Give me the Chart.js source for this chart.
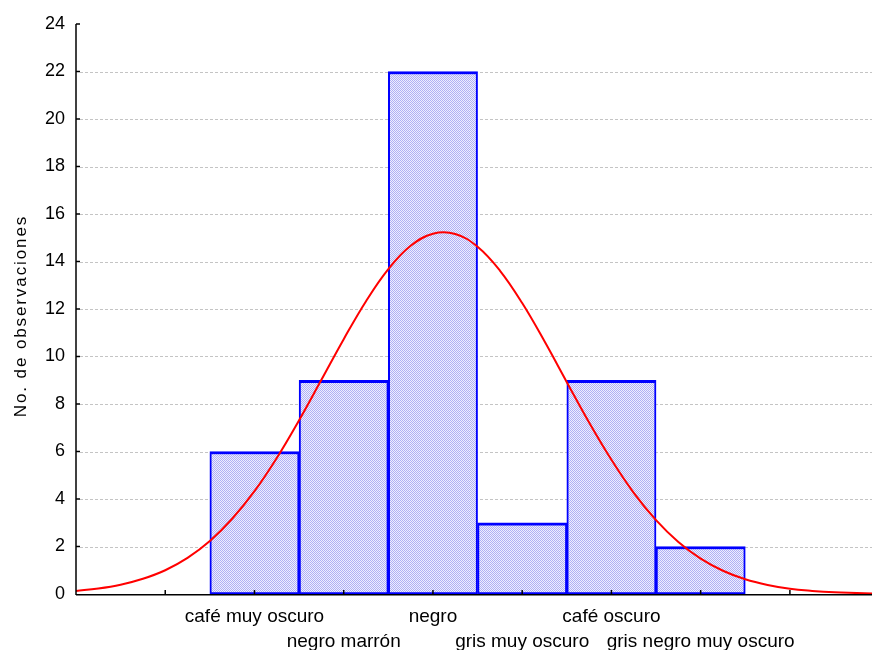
<!DOCTYPE html>
<html>
<head>
<meta charset="utf-8">
<script src="https://cdn.jsdelivr.net/npm/chart.js@4/dist/chart.umd.min.js"></script>
<style>
  html, body { margin: 0; padding: 0; background: #ffffff; overflow: hidden; }
  canvas { display: block; }
</style>
</head>
<body>
<canvas id="hist" width="872" height="650"></canvas>
<script>
// Colour categories and observed counts
const categories = ['café muy oscuro', 'negro marrón', 'negro', 'gris muy oscuro', 'café oscuro', 'gris negro muy oscuro'];
const counts = [6, 9, 22, 3, 9, 2];

// Y axis tick labels
const yTicks = [0, 2, 4, 6, 8, 10, 12, 14, 16, 18, 20, 22, 24];

// Expected normal curve (positions in category units, heights in observations)
const curveX = [-2, -1.75, -1.5, -1.25, -1, -0.75, -0.5, -0.25, 0, 0.25, 0.5, 0.75, 1, 1.25, 1.5, 1.75, 2, 2.25, 2.5, 2.75, 3, 3.25, 3.5, 3.75, 4, 4.25, 4.5, 4.75, 5, 5.25, 5.5, 5.75, 6, 6.25, 6.5, 6.75, 6.92];
const curveY = [0.13, 0.23, 0.39, 0.64, 1.00, 1.52, 2.23, 3.17, 4.33, 5.73, 7.32, 9.02, 10.73, 12.33, 13.68, 14.66, 15.17, 15.16, 14.62, 13.62, 12.25, 10.64, 8.92, 7.22, 5.65, 4.26, 3.11, 2.19, 1.49, 0.98, 0.62, 0.38, 0.22, 0.13, 0.07, 0.04, 0.02];

// Positions of the x-axis tick marks (category units)
const xTickMarks = [-1, 0, 1, 2, 3, 4, 5, 6];
const xRange = [-2, 6.92];

const FONT = '"Liberation Sans", Arial, sans-serif';

// Fine dotted fill for the bars
function dotPattern(ctx) {
  const c = document.createElement('canvas');
  c.width = 2; c.height = 2;
  const p = c.getContext('2d');
  p.fillStyle = '#eeeeff';
  p.fillRect(0, 0, 2, 2);
  p.fillStyle = '#b0b0f4';
  p.fillRect(0, 0, 1, 1);
  p.fillRect(1, 1, 1, 1);
  return ctx.createPattern(c, 'repeat');
}

const decorations = {
  id: 'decorations',
  beforeDatasetsDraw(chart) {
    const { ctx, chartArea, scales } = chart;
    const y = scales.y;
    ctx.save();
    ctx.strokeStyle = '#c4c4c4';
    ctx.lineWidth = 1;
    ctx.setLineDash([3, 2]);
    yTicks.forEach(v => {
      if (v === 0 || v === 24) return;
      const py = Math.round(y.getPixelForValue(v)) + 0.5;
      ctx.beginPath();
      ctx.moveTo(chartArea.left + 4, py);
      ctx.lineTo(chartArea.right, py);
      ctx.stroke();
    });
    ctx.restore();
  },
  afterDatasetsDraw(chart) {
    const { ctx, chartArea, scales } = chart;
    const x = scales.x, y = scales.y;
    ctx.save();
    ctx.setLineDash([]);
    ctx.strokeStyle = '#000000';

    // axis lines
    ctx.lineWidth = 1.5;
    ctx.beginPath();
    ctx.moveTo(chartArea.left, chartArea.top);
    ctx.lineTo(chartArea.left, chartArea.bottom + 1);
    ctx.stroke();
    ctx.lineWidth = 1.6;
    ctx.beginPath();
    ctx.moveTo(chartArea.left, chartArea.bottom + 0.8);
    ctx.lineTo(chartArea.right, chartArea.bottom + 0.8);
    ctx.stroke();

    // inward tick marks
    ctx.lineWidth = 1.5;
    yTicks.forEach(v => {
      if (v === 0) return;
      const py = y.getPixelForValue(v);
      ctx.beginPath();
      ctx.moveTo(chartArea.left, py);
      ctx.lineTo(chartArea.left + 4, py);
      ctx.stroke();
    });
    xTickMarks.forEach(v => {
      const px = x.getPixelForValue(v);
      ctx.beginPath();
      ctx.moveTo(px, chartArea.bottom);
      ctx.lineTo(px, chartArea.bottom - 4);
      ctx.stroke();
    });

    // y tick labels
    ctx.fillStyle = '#000000';
    ctx.font = '18px ' + FONT;
    ctx.textAlign = 'right';
    ctx.textBaseline = 'middle';
    yTicks.forEach(v => {
      ctx.fillText(String(v), chartArea.left - 11, y.getPixelForValue(v));
    });

    // category labels, alternating on two rows
    ctx.font = '19px ' + FONT;
    ctx.textAlign = 'center';
    ctx.textBaseline = 'alphabetic';
    categories.forEach((name, i) => {
      const px = x.getPixelForValue(i);
      const py = i % 2 === 0 ? 622 : 647;
      ctx.fillText(name, px, py);
    });

    // y axis title
    ctx.font = '17px ' + FONT;
    if ('letterSpacing' in ctx) ctx.letterSpacing = '1.9px';
    ctx.translate(26, 316);
    ctx.rotate(-Math.PI / 2);
    ctx.textAlign = 'center';
    ctx.fillText('No. de observaciones', 0, 0);
    ctx.restore();
  }
};

const canvas = document.getElementById('hist');
const ctx = canvas.getContext('2d');

new Chart(ctx, {
  type: 'bar',
  data: {
    datasets: [
      {
        type: 'line',
        data: curveX.map((v, i) => ({ x: v, y: curveY[i] })),
        borderColor: '#ff0000',
        borderWidth: 2,
        pointRadius: 0,
        tension: 0.4,
        fill: false,
        order: 0
      },
      {
        type: 'bar',
        data: counts.map((v, i) => ({ x: i, y: v })),
        backgroundColor: dotPattern(ctx),
        borderColor: '#0000ff',
        borderWidth: { top: 3, left: 2, right: 2, bottom: 2 },
        borderSkipped: false,
        barPercentage: 1,
        categoryPercentage: 1,
        order: 1
      }
    ]
  },
  options: {
    responsive: false,
    animation: false,
    devicePixelRatio: 1,
    layout: { padding: { left: 76, top: 24, right: 0, bottom: 56 } },
    plugins: { legend: { display: false }, tooltip: { enabled: false } },
    scales: {
      x: {
        type: 'linear',
        min: xRange[0],
        max: xRange[1],
        offset: false,
        display: false,
        afterBuildTicks: scale => {
          scale.ticks = [xRange[0]].concat(xTickMarks).map(v => ({ value: v }));
        }
      },
      y: { type: 'linear', min: 0, max: 24, display: false }
    }
  },
  plugins: [decorations]
});
</script>
</body>
</html>
